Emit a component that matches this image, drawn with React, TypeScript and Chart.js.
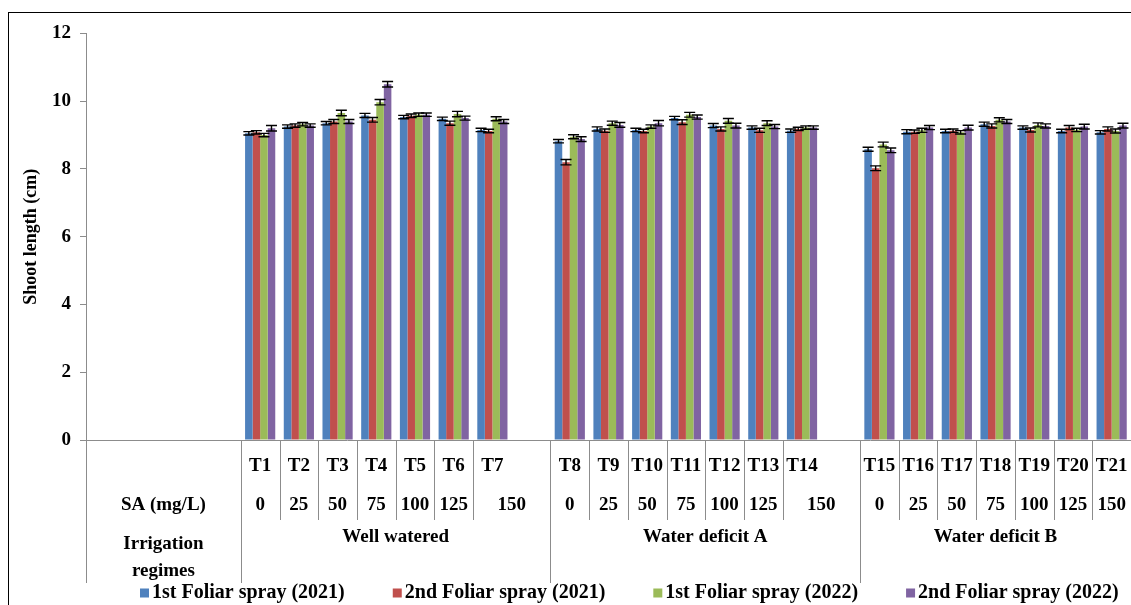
import React, { useEffect, useRef } from "react";
import { Chart, registerables } from "chart.js";

Chart.register(...registerables);

// ---------------- DATA ----------------
const treatments = [
  "T1", "T2", "T3", "T4", "T5", "T6", "T7",
  "T8", "T9", "T10", "T11", "T12", "T13", "T14",
  "T15", "T16", "T17", "T18", "T19", "T20", "T21",
];
const saLevels = ["0", "25", "50", "75", "100", "125", "150"];
const regimes = ["Well watered", "Water deficit A", "Water deficit B"];
const seriesNames = [
  "1st Foliar spray (2021)",
  "2nd Foliar spray (2021)",
  "1st Foliar spray (2022)",
  "2nd Foliar spray (2022)",
];
const seriesColors = ["#4F81BD", "#C0504D", "#9BBB59", "#8064A2"];

const spray1_2021 = [9.05, 9.25, 9.35, 9.58, 9.53, 9.48, 9.15, 8.82, 9.18, 9.15, 9.5, 9.28, 9.22, 9.13, 8.58, 9.1, 9.12, 9.32, 9.22, 9.12, 9.08];
const spray2_2021 = [9.08, 9.28, 9.4, 9.45, 9.57, 9.35, 9.12, 8.2, 9.13, 9.12, 9.38, 9.18, 9.14, 9.18, 8.02, 9.1, 9.13, 9.27, 9.15, 9.22, 9.18];
const spray1_2022 = [9.0, 9.32, 9.65, 9.97, 9.6, 9.62, 9.48, 8.95, 9.35, 9.25, 9.6, 9.42, 9.35, 9.22, 8.72, 9.14, 9.08, 9.45, 9.3, 9.15, 9.12];
const spray2_2022 = [9.2, 9.28, 9.4, 10.5, 9.6, 9.5, 9.4, 8.88, 9.3, 9.35, 9.53, 9.28, 9.25, 9.22, 8.55, 9.22, 9.22, 9.4, 9.27, 9.25, 9.28];

const err1_2021 = [0.05, 0.05, 0.05, 0.06, 0.05, 0.05, 0.05, 0.05, 0.06, 0.05, 0.05, 0.06, 0.05, 0.05, 0.06, 0.06, 0.05, 0.06, 0.05, 0.05, 0.05];
const err2_2021 = [0.05, 0.05, 0.06, 0.07, 0.05, 0.06, 0.05, 0.08, 0.05, 0.05, 0.07, 0.06, 0.06, 0.05, 0.07, 0.05, 0.05, 0.06, 0.06, 0.06, 0.06];
const err1_2022 = [0.05, 0.05, 0.08, 0.08, 0.05, 0.08, 0.06, 0.06, 0.06, 0.05, 0.07, 0.07, 0.07, 0.05, 0.07, 0.06, 0.05, 0.06, 0.06, 0.05, 0.06];
const err2_2022 = [0.08, 0.05, 0.06, 0.08, 0.05, 0.06, 0.06, 0.07, 0.07, 0.08, 0.06, 0.07, 0.06, 0.05, 0.07, 0.06, 0.07, 0.06, 0.06, 0.07, 0.07];

const yTicks = [0, 2, 4, 6, 8, 10, 12];

// ---------------- LAYOUT HELPERS ----------------
const LEAD_BLANKS = 4;
const GROUP_SIZE = 7;

function buildLabels(): string[] {
  const out: string[] = [];
  for (let i = 0; i < LEAD_BLANKS; i++) out.push("");
  regimes.forEach((_, g) => {
    for (let k = 0; k < GROUP_SIZE; k++) out.push(treatments[g * GROUP_SIZE + k]);
    if (g < regimes.length - 1) out.push("");
  });
  return out;
}

function spread(values: number[]): (number | null)[] {
  const out: (number | null)[] = [];
  for (let i = 0; i < LEAD_BLANKS; i++) out.push(null);
  regimes.forEach((_, g) => {
    for (let k = 0; k < GROUP_SIZE; k++) out.push(values[g * GROUP_SIZE + k]);
    if (g < regimes.length - 1) out.push(null);
  });
  return out;
}

const FONT = "'Liberation Serif', 'Times New Roman', serif";
const LINE = "#8c8c8c";

const errorBarPlugin = {
  id: "errorBars",
  afterDatasetsDraw(chart: any) {
    const { ctx } = chart;
    const y = chart.scales.y;
    ctx.save();
    ctx.strokeStyle = "#000";
    ctx.lineWidth = 1.4;
    chart.data.datasets.forEach((ds: any, di: number) => {
      const meta = chart.getDatasetMeta(di);
      meta.data.forEach((bar: any, i: number) => {
        const v = ds.data[i];
        const e = ds.errors[i];
        if (v == null || e == null) return;
        const yt = y.getPixelForValue(v + e);
        const yb = y.getPixelForValue(v - e);
        const half = 5.5;
        ctx.beginPath();
        ctx.moveTo(bar.x, yt);
        ctx.lineTo(bar.x, yb);
        ctx.moveTo(bar.x - half, yt);
        ctx.lineTo(bar.x + half, yt);
        ctx.moveTo(bar.x - half, yb);
        ctx.lineTo(bar.x + half, yb);
        ctx.stroke();
      });
    });
    ctx.restore();
  },
};

const tablePlugin = {
  id: "tableAxis",
  afterDraw(chart: any) {
    const { ctx, chartArea } = chart;
    const x = chart.scales.x;
    const n = chart.data.labels.length;
    const cw = (x.right - x.left) / n;
    const edge = (i: number) => x.left + i * cw;
    const top = chartArea.bottom;
    const longBottom = top + 143;
    const shortBottom = top + 80;

    ctx.save();
    ctx.strokeStyle = LINE;
    ctx.lineWidth = 1;
    const line = (x0: number, y0: number, x1: number, y1: number) => {
      ctx.beginPath();
      ctx.moveTo(Math.round(x0) + 0.5, y0);
      ctx.lineTo(Math.round(x1) + 0.5, y1);
      ctx.stroke();
    };
    // group boundaries
    const groupStarts = regimes.map((_, g) => LEAD_BLANKS + g * (GROUP_SIZE + 1));
    line(edge(0), top, edge(0), longBottom);
    groupStarts.forEach((s) => line(edge(s), top, edge(s), longBottom));
    // treatment separators
    groupStarts.forEach((s) => {
      for (let k = 1; k < GROUP_SIZE; k++) line(edge(s + k), top, edge(s + k), shortBottom);
    });

    ctx.fillStyle = "#000";
    ctx.font = `bold 19px ${FONT}`;
    ctx.textAlign = "center";
    ctx.textBaseline = "middle";

    const headerCenter = (edge(0) + edge(LEAD_BLANKS)) / 2;
    ctx.fillText("SA (mg/L)", headerCenter, top + 65);
    ctx.fillText("Irrigation", headerCenter, top + 104);
    ctx.fillText("regimes", headerCenter, top + 131);

    regimes.forEach((name, g) => {
      const s = groupStarts[g];
      const span = g < regimes.length - 1 ? GROUP_SIZE + 1 : GROUP_SIZE;
      for (let k = 0; k < GROUP_SIZE; k++) {
        const cx = edge(s + k) + cw / 2;
        ctx.fillText(treatments[g * GROUP_SIZE + k], cx, top + 26);
        const saCx = k === GROUP_SIZE - 1 ? (edge(s + k) + edge(s + span)) / 2 : cx;
        ctx.fillText(saLevels[k], saCx, top + 65);
      }
      ctx.fillText(name, (edge(s) + edge(s + span)) / 2, top + 97);
    });

    // legend
    ctx.font = `bold 20px ${FONT}`;
    ctx.textAlign = "left";
    let lx = 131;
    const ly = 580;
    seriesNames.forEach((name, i) => {
      ctx.fillStyle = seriesColors[i];
      ctx.fillRect(lx, ly - 4.5, 9, 9);
      ctx.fillStyle = "#000";
      ctx.fillText(name, lx + 12, ly);
      lx += 12 + ctx.measureText(name).width + 48;
    });
    ctx.restore();
  },
};

export default function App() {
  const canvasRef = useRef<HTMLCanvasElement | null>(null);

  useEffect(() => {
    if (!canvasRef.current) return;
    const labels = buildLabels();
    const values = [spray1_2021, spray2_2021, spray1_2022, spray2_2022];
    const errors = [err1_2021, err2_2021, err1_2022, err2_2022];
    const chart = new Chart(canvasRef.current, {
      type: "bar",
      data: {
        labels,
        datasets: seriesNames.map((name, i) => ({
          label: name,
          data: spread(values[i]),
          errors: spread(errors[i]),
          backgroundColor: seriesColors[i],
          borderWidth: 0,
          categoryPercentage: 0.78,
          barPercentage: 1.0,
        })) as any,
      },
      options: {
        responsive: false,
        animation: false,
        devicePixelRatio: 1,
        layout: { padding: { top: 18, left: 0, right: 0, bottom: 0 } },
        plugins: {
          legend: { display: false },
          tooltip: { enabled: false },
        },
        scales: {
          x: {
            grid: { display: false },
            border: { display: true, color: LINE, width: 1 },
            ticks: { display: false },
            afterFit: (s: any) => {
              s.height = 165;
            },
          },
          y: {
            min: 0,
            max: 12,
            afterBuildTicks: (s: any) => {
              s.ticks = yTicks.map((v) => ({ value: v }));
            },
            grid: {
              drawOnChartArea: false,
              drawTicks: true,
              tickLength: 6,
              color: LINE,
            },
            border: { display: true, color: LINE, width: 1 },
            ticks: {
              color: "#000",
              padding: 9,
              font: { family: FONT, size: 19, weight: "bold" },
            },
            title: {
              display: true,
              text: "Shoot length (cm)",
              color: "#000",
              padding: { top: 12, bottom: 0 },
              font: { family: FONT, size: 18, weight: "bold" },
            },
            afterFit: (s: any) => {
              s.width = 77;
            },
          },
        },
      },
      plugins: [errorBarPlugin, tablePlugin],
    });
    return () => chart.destroy();
  }, []);

  return (
    <div
      style={{
        position: "absolute",
        left: 8,
        top: 12,
        width: 1123,
        height: 593,
        boxSizing: "border-box",
        borderLeft: "1px solid #000",
        borderTop: "1px solid #000",
        overflow: "hidden",
        background: "#fff",
      }}
    >
      <canvas ref={canvasRef} width={1122} height={592} style={{ display: "block" }} />
    </div>
  );
}
